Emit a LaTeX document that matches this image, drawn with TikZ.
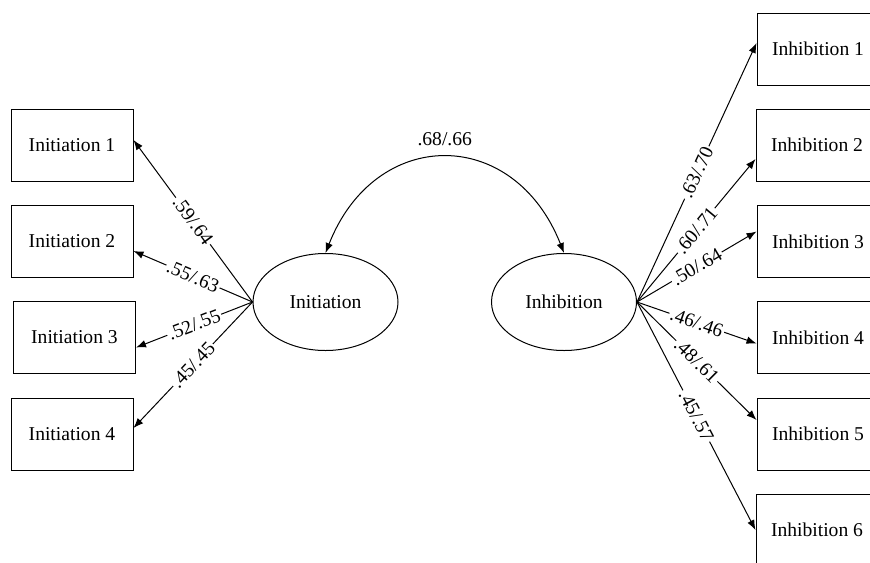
\documentclass[tikz,border=0pt]{standalone}
\usepackage{fontspec}
\setmainfont{Liberation Serif}
\usetikzlibrary{arrows.meta,shapes.geometric}
\newcommand{\semfont}{\fontsize{9.8}{11.5}\selectfont}

\begin{document}
\begin{tikzpicture}[x=0.5pt, y=-0.5pt,
    ind/.style={draw, line width=0.5pt, minimum width=61pt,
                minimum height=36pt, inner sep=0pt, font=\semfont},
    lat/.style={draw, ellipse, line width=0.5pt, minimum width=72.5pt,
                minimum height=48.5pt, inner sep=0pt, font=\semfont},
    loading/.style={-{Latex[length=5pt,width=3.8pt]}, line width=0.5pt},
    coef/.style={fill=white, sloped, inner sep=0.8pt, font=\semfont}
  ]
    \useasboundingbox (0,0) rectangle (870,562);

    % latent factors
    \node[lat] (ini) at (325.5,302) {Initiation};
    \node[lat] (inh) at (564,302) {Inhibition};

    % indicators
    \node[ind] (i1) at (72,145)   {Initiation 1};
    \node[ind] (i2) at (72,241)   {Initiation 2};
    \node[ind] (i3) at (74.5,337.5) {Initiation 3};
    \node[ind] (i4) at (72,434)   {Initiation 4};

    \node[ind] (h1) at (818,49)    {Inhibition 1};
    \node[ind] (h2) at (817,145)   {Inhibition 2};
    \node[ind] (h3) at (818,241.5) {Inhibition 3};
    \node[ind] (h4) at (818,337.5) {Inhibition 4};
    \node[ind] (h5) at (818,434)   {Inhibition 5};
    \node[ind] (h6) at (817,530)   {Inhibition 6};

    % loadings
    \draw[loading] (ini.west) -- node[coef] {.59/.64} ([yshift=2.5pt]i1.east);
    \draw[loading] (ini.west) -- node[coef] {.55/.63} ([yshift=-5pt]i2.east);
    \draw[loading] (ini.west) -- node[coef] {.52/.55} ([yshift=-5pt]i3.east);
    \draw[loading] (ini.west) -- node[coef] {.45/.45} ([yshift=3pt]i4.east);

    \draw[loading] (inh.east) -- node[coef] {.63/.70} ([yshift=3pt]h1.west);
    \draw[loading] (inh.east) -- node[coef] {.60/.71} ([yshift=-7pt]h2.west);
    \draw[loading] (inh.east) -- node[coef] {.50/.64} ([yshift=5pt]h3.west);
    \draw[loading] (inh.east) -- node[coef] {.46/.46} ([yshift=-3pt]h4.west);
    \draw[loading] (inh.east) -- node[coef] {.48/.61} ([yshift=7pt]h5.west);
    \draw[loading] (inh.east) -- node[coef] {.45/.57} (h6.west);

    % correlation
    \draw[{Latex[length=5pt,width=3.8pt]}-{Latex[length=5pt,width=3.8pt]}, line width=0.5pt]
      (ini.north) .. controls +(50,-127) and +(-50,-127) .. (inh.north)
      node[pos=0.5, above=2.5pt, font=\semfont] {.68/.66};
\end{tikzpicture}
\end{document}
